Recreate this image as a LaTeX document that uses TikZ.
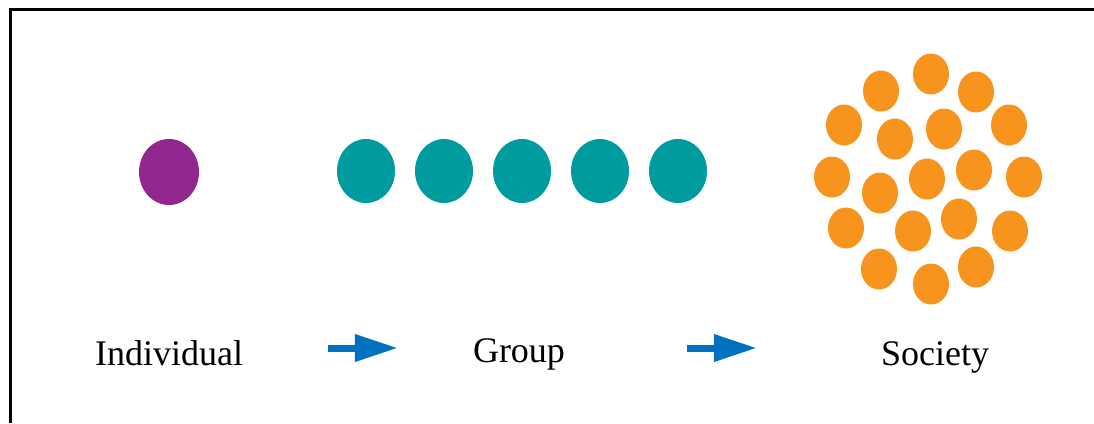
\documentclass[tikz,border=0pt]{standalone}
\usepackage{fontspec}
\setmainfont{Liberation Serif}
\usetikzlibrary{shapes.geometric, arrows.meta, positioning}

\definecolor{dotpurple}{HTML}{92278F}
\definecolor{dotteal}{HTML}{009B9E}
\definecolor{dotorange}{HTML}{F7941D}
\definecolor{arrowblue}{HTML}{0070C0}

\begin{document}
\begin{tikzpicture}[x=1pt, y=-1pt,
        dot/.style={ellipse, inner sep=0pt, draw=none},
        inddot/.style={dot, fill=dotpurple, minimum width=60pt, minimum height=66pt},
        grpdot/.style={dot, fill=dotteal, minimum width=58pt, minimum height=64pt},
        socdot/.style={dot, fill=dotorange, minimum width=36pt, minimum height=41pt},
        label/.style={inner sep=0pt, font=\fontsize{36}{40}\selectfont},
        flow/.style={arrowblue, line width=7pt, -{Triangle[length=43pt, width=26pt]}}
    ]
        \useasboundingbox (0,0) rectangle (1094,423);
        \draw[line width=3pt] (10,423) -- (10,9.5) -- (1094,9.5);
        \node[inddot] (ind) at (169,172) {};
        \foreach \x [count=\i] in {366,444,522,600,678}
            \node[grpdot] (g\i) at (\x,171) {};
        \foreach \x/\y [count=\i] in {931/74, 881/91, 976/92, 844/125, 895/139, 944/129, 1009/125,
            832/177, 880/193, 927/179, 974/170, 1024/177, 846/228, 913/231, 959/219, 1010/231,
            879/269, 931/284, 976/267}
            \node[socdot] (s\i) at (\x,\y) {};
        \node[label, anchor=base] (indlabel) at (169,365) {Individual};
        \node[label, anchor=base] (grplabel) at (519,362) {Group};
        \node[label, anchor=base] (soclabel) at (935,365) {Society};
        \draw[flow] ([xshift=85pt]indlabel.east |- 0,348) -- ([xshift=-75pt]grplabel.west |- 0,348);
        \draw[flow] ([xshift=122pt]grplabel.east |- 0,348) -- ([xshift=-124pt]soclabel.west |- 0,348);
    \end{tikzpicture}
\end{document}
